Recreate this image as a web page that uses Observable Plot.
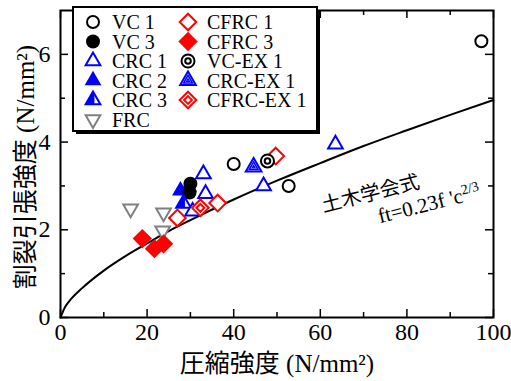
<!DOCTYPE html>
<html><head><meta charset="utf-8">
<script src="https://cdn.jsdelivr.net/npm/d3@7"></script>
<script src="https://cdn.jsdelivr.net/npm/@observablehq/plot@0.6"></script>
<style>
body{margin:0;background:#fff;}
#wrap{position:relative;width:511px;height:381px;overflow:hidden;}
</style></head><body><div id="wrap"></div>
<script>
// Design curve ft = 0.23 f'c^(2/3)
const curveFc = [0,1,2,5,10,15,20,25,30,40,50,60,70,80,90,100];
const curveFt = [0,0.23,0.37,0.67,1.07,1.40,1.69,1.97,2.22,2.69,3.12,3.52,3.91,4.27,4.62,4.96];

// Series: [compressive strength, splitting tensile strength]
const vc1 = [[40.0,3.50],[52.7,3.00],[97.2,6.30]];
const vc3 = [[30.0,3.05],[29.8,2.85]];
const crc1 = [[33.0,3.27],[33.5,2.82],[30.5,2.42],[46.9,3.00],[63.5,3.95]];
const crc2 = [[27.7,2.89],[29.6,2.98]];
const crc3 = [[28.4,2.60]];
const frc = [[16.2,2.48],[23.8,2.39],[23.6,1.98]];
const cfrc1 = [[27.0,2.27],[36.3,2.61],[49.7,3.68]];
const cfrc3 = [[18.9,1.80],[21.7,1.57],[23.8,1.68]];
const vcex1 = [[47.8,3.57]];
const crcex1 = [[44.6,3.43]];
const cfrcex1 = [[32.3,2.50]];

const legendNames = ["VC 1","VC 3","CRC 1","CRC 2","CRC 3","FRC","CFRC 1","CFRC 3","VC-EX 1","CRC-EX 1","CFRC-EX 1"];
const xTicks = [0,20,40,60,80,100], xMinor = [10,30,50,70,90];
const yTicks = [0,2,4,6], yMinor = [1,3,5];
const xLabel = "圧縮強度 (N/mm²)";
const yLabel = "割裂引張強度 (N/mm²)";
const curveName = "土木学会式";
const curveFormula = "ft=0.23f 'c";
const curveExp = "2/3";
const annot = [{x:71.6, y:2.82}, {x:73.4, y:2.30}];

const W=511, H=381, mL=60, mR=18, mT=10, mB=64;
const innerH = H-mT-mB, innerW = W-mL-mR;
const serif = '"Liberation Serif","Noto Sans CJK JP",serif';

const halfTri = {draw(ctx, size){
  const s=Math.sqrt(size)*0.6824, t=s/2, u=s*Math.sqrt(3)/2;
  ctx.moveTo(0,-s); ctx.lineTo(0.2*u,-0.7*s); ctx.lineTo(0.2*u,t); ctx.lineTo(-u,t); ctx.closePath();
}};
const BLUE="#0000ff", RED="#ff0000", GRAY="#808080";
const styles = {
  "VC 1":[{symbol:"circle",r:6,stroke:"black",fill:"white"}],
  "VC 3":[{symbol:"circle",r:7,fill:"black"}],
  "CRC 1":[{symbol:"triangle2",r:7,stroke:BLUE,fill:"white"}],
  "CRC 2":[{symbol:"triangle2",r:8,fill:BLUE}],
  "CRC 3":[{symbol:"triangle2",r:7,stroke:BLUE,fill:"white"},{symbol:halfTri,r:7,fill:BLUE}],
  "FRC":[{symbol:"triangle2",r:7,stroke:GRAY,fill:"white",rotate:180}],
  "CFRC 1":[{symbol:"diamond2",r:7.5,stroke:RED,fill:"white"}],
  "CFRC 3":[{symbol:"diamond2",r:8.7,fill:RED}],
  "VC-EX 1":[{symbol:"circle",r:6.5,stroke:"black",fill:"white"},{symbol:"circle",r:2.8,stroke:"black",fill:"white"}],
  "CRC-EX 1":[{symbol:"triangle2",r:7.5,stroke:BLUE,fill:"white"},{symbol:"triangle2",r:4.2,stroke:BLUE,fill:"white",sw:1.5},{symbol:"triangle2",r:1.4,stroke:BLUE,fill:"white",sw:1.2}],
  "CFRC-EX 1":[{symbol:"diamond2",r:7.5,stroke:RED,fill:"white"},{symbol:"diamond2",r:3.5,stroke:RED,fill:"white"}]
};
const seriesData = {"VC 1":vc1,"VC 3":vc3,"CRC 1":crc1,"CRC 2":crc2,"CRC 3":crc3,"FRC":frc,
  "CFRC 1":cfrc1,"CFRC 3":cfrc3,"VC-EX 1":vcex1,"CRC-EX 1":crcex1,"CFRC-EX 1":cfrcex1};
const drawOrder = ["CRC 2","VC 3","CRC 3","CRC 1","FRC","CFRC 3","CFRC 1","CFRC-EX 1","VC 1","VC-EX 1","CRC-EX 1"];

const P = arr => arr.map(([x,y]) => ({x,y}));
const dotMarks = drawOrder.flatMap(name => styles[name].map(st => Plot.dot(P(seriesData[name]), {
  x:"x", y:"y", symbol: st.symbol, r: st.r, fill: st.fill || "none",
  stroke: st.stroke || "none", strokeWidth: st.stroke ? (st.sw || 2) : 0, rotate: st.rotate || 0
})));

const chart = Plot.plot({
  width: W, height: H, marginLeft: mL, marginRight: mR, marginTop: mT, marginBottom: mB,
  x: {domain:[0,100]}, y: {domain:[0,7]},
  style: {background:"white", fontFamily: serif, color:"black"},
  marks: [
    Plot.line(curveFc.map((x,i)=>({x, y:curveFt[i]})), {x:"x", y:"y", stroke:"black", strokeWidth:2, curve:"monotone-x"}),
    ...dotMarks,
    Plot.tickX(xTicks, {x:d=>d, insetTop: innerH-8, stroke:"black", strokeWidth:1.5}),
    Plot.tickX(xTicks, {x:d=>d, insetBottom: innerH-8, stroke:"black", strokeWidth:1.5}),
    Plot.tickX(xMinor, {x:d=>d, insetTop: innerH-5, stroke:"black", strokeWidth:1.5}),
    Plot.tickX(xMinor, {x:d=>d, insetBottom: innerH-5, stroke:"black", strokeWidth:1.5}),
    Plot.tickY(yTicks, {y:d=>d, insetRight: innerW-8, stroke:"black", strokeWidth:1.5}),
    Plot.tickY(yTicks, {y:d=>d, insetLeft: innerW-8, stroke:"black", strokeWidth:1.5}),
    Plot.tickY(yMinor, {y:d=>d, insetRight: innerW-5, stroke:"black", strokeWidth:1.5}),
    Plot.tickY(yMinor, {y:d=>d, insetLeft: innerW-5, stroke:"black", strokeWidth:1.5}),
    Plot.frame({stroke:"black", strokeWidth:2}),
    Plot.axisX(xTicks, {tickSize:0, tickPadding:5, fontSize:24, fontFamily:serif, label:null}),
    Plot.axisY(yTicks, {tickSize:0, tickPadding:10, fontSize:24, fontFamily:serif, label:null}),
    Plot.text([xLabel], {frameAnchor:"bottom", dy:46, text:d=>d, fontSize:25, fontFamily:serif, textAnchor:"middle", lineAnchor:"middle"}),
    Plot.text([yLabel], {frameAnchor:"left", dx:-35, dy:3, rotate:-90, text:d=>d, fontSize:25, fontFamily:serif, textAnchor:"middle", lineAnchor:"middle"}),
    Plot.text([annot[0]], {x:"x", y:"y", text:()=>curveName, rotate:-14, fontSize:20, fontFamily:serif, lineAnchor:"middle"}),
    Plot.text([annot[1]], {x:"x", y:"y", text:()=>curveFormula, rotate:-14, fontSize:21, fontFamily:serif, textAnchor:"start", lineAnchor:"middle", className:"cform"})
  ]
});
document.getElementById("wrap").appendChild(chart);

// superscript exponent on the formula
d3.select(chart).selectAll(".cform text").each(function(){
  d3.select(this).append("tspan").attr("dy","-0.55em").attr("font-size",14).text(curveExp);
});

// Legend overlay
const leg = d3.select("#wrap").append("svg").attr("width",W).attr("height",H)
  .style("position","absolute").style("left","0px").style("top","0px");
leg.append("rect").attr("x",76).attr("y",10).attr("width",244).attr("height",124).attr("fill","black");
leg.append("rect").attr("x",73).attr("y",7).attr("width",244).attr("height",124).attr("fill","white").attr("stroke","black").attr("stroke-width",2);
const symMap = {circle:d3.symbolCircle, triangle2:d3.symbolTriangle2, diamond2:d3.symbolDiamond2};
legendNames.forEach((name,i) => {
  const col = i < 6 ? 0 : 1, row = i < 6 ? i : i-6;
  const sx = col ? 188 : 93, tx = col ? 207 : 112, cy = 22 + row*19.5;
  styles[name].forEach(st => {
    const sym = typeof st.symbol === "string" ? symMap[st.symbol] : st.symbol;
    leg.append("path").attr("d", d3.symbol(sym, Math.PI*st.r*st.r)())
      .attr("transform", `translate(${sx},${cy}) rotate(${st.rotate||0})`)
      .attr("fill", st.fill || "none").attr("stroke", st.stroke || "none").attr("stroke-width", st.stroke ? (st.sw || 2) : 0);
  });
  leg.append("text").attr("x", tx).attr("y", cy).attr("dy","0.35em")
    .attr("font-family", serif).attr("font-size", 20).attr("fill","black").text(name);
});
</script></body></html>
